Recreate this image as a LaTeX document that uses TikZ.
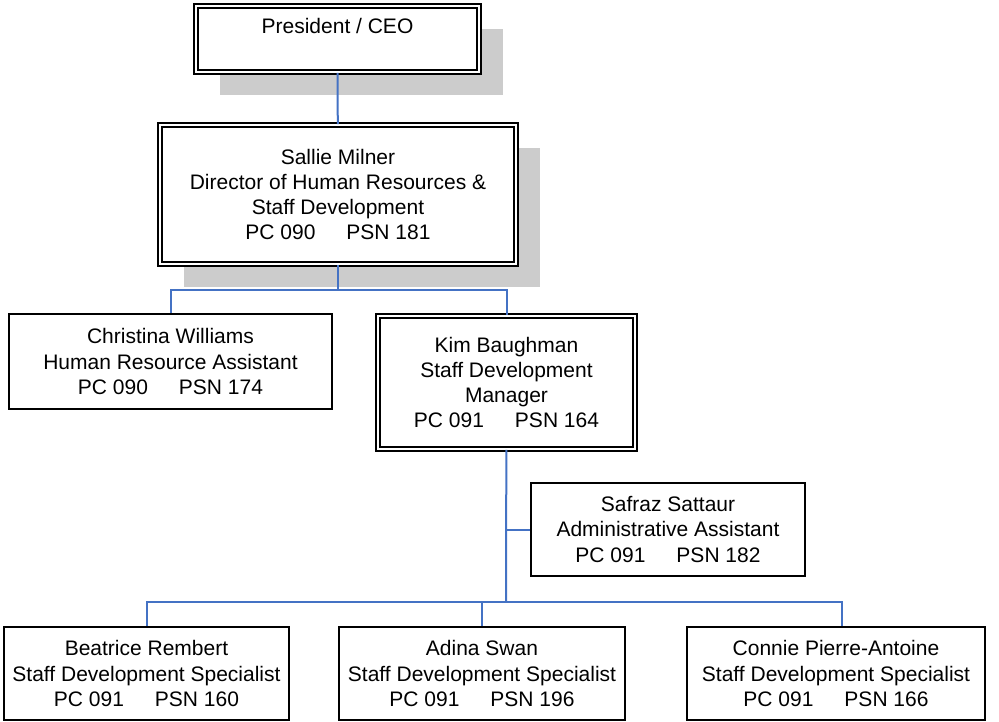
\documentclass[tikz,border=0pt]{standalone}
\usepackage{fontspec}
\setmainfont{Liberation Sans}
\usetikzlibrary{shadows}

\definecolor{linkblue}{RGB}{68,114,196}
\newcommand{\pcgap}{\hspace{31pt}}

\begin{document}
\begin{tikzpicture}[x=1pt, y=-1pt,
	every node/.style={align=center, font=\fontsize{21}{25.3}\selectfont, inner sep=0pt},
	post/.style={draw, line width=2.2pt, fill=white},
	lead/.style={draw, line width=1.7pt, double=white, double distance=2.6pt, fill=white},
	shade/.style={drop shadow={shadow xshift=24pt, shadow yshift=-23pt, fill=black!20, opacity=1}},
	link/.style={draw=linkblue, line width=2pt}]
	\useasboundingbox (0,0) rectangle (999,722);

	\node[lead, shade, minimum width=283pt, minimum height=66pt] (ceo) at (337.5,39) {President / CEO\\~};
	\node[lead, shade, minimum width=356pt, minimum height=139pt] (dir) at (338,194.5)
		{Sallie Milner\\Director of Human Resources \&\\Staff Development\\PC 090\pcgap PSN 181};
	\node[post, minimum width=323pt, minimum height=95pt] (hra) at (170.5,361.5)
		{Christina Williams\\Human Resource Assistant\\PC 090\pcgap PSN 174};
	\node[lead, minimum width=257pt, minimum height=133pt] (sdm) at (506.5,382.5)
		{Kim Baughman\\Staff Development\\Manager\\PC 091\pcgap PSN 164};
	\node[post, minimum width=274pt, minimum height=93pt] (adm) at (668,529.5)
		{Safraz Sattaur\\Administrative Assistant\\PC 091\pcgap PSN 182};
	\node[post, minimum width=285pt, minimum height=93pt] (sp1) at (146.5,673.5)
		{Beatrice Rembert\\Staff Development Specialist\\PC 091\pcgap PSN 160};
	\node[post, minimum width=286pt, minimum height=93pt] (sp2) at (482,673.5)
		{Adina Swan\\Staff Development Specialist\\PC 091\pcgap PSN 196};
	\node[post, minimum width=298pt, minimum height=93pt] (sp3) at (836,673.5)
		{Connie Pierre-Antoine\\Staff Development Specialist\\PC 091\pcgap PSN 166};

	\coordinate (b1) at (338,290);
	\coordinate (b2) at (506,602);

	\draw[link] (ceo) -- (dir);
	\draw[link] (dir) -- (b1);
	\draw[link] (hra.north) |- (b1) -| (sdm.north);
	\draw[link] (sdm) -- (b2);
	\draw[link] (sdm.south |- adm.west) -- (adm.west);
	\draw[link] (sp1.north) |- (b2) -| ([xshift=6pt]sp3.north);
	\draw[link] (sp2.north) -- (sp2.north |- b2);
\end{tikzpicture}
\end{document}
